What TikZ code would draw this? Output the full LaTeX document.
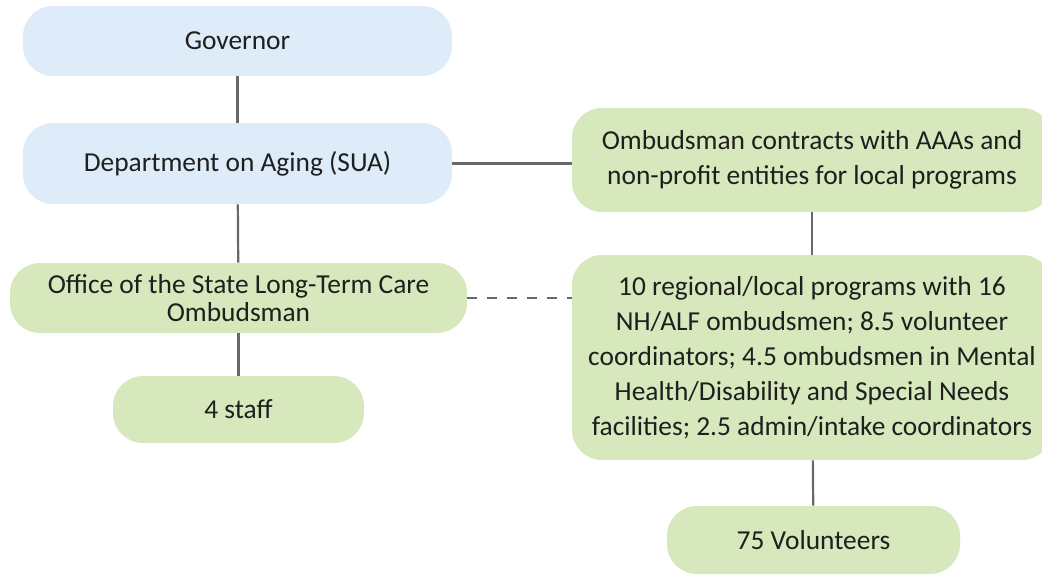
\documentclass[tikz,border=0pt]{standalone}
\usepackage{fontspec}
\setmainfont{Carlito}
\usepackage{xcolor}
\usetikzlibrary{positioning}
\definecolor{govblue}{RGB}{221,236,248}
\definecolor{ombgreen}{RGB}{214,232,188}
\definecolor{linkgray}{RGB}{104,104,104}
\tikzset{
unit/.style={rounded corners=15pt, inner sep=0pt, align=center,
font=\fontsize{13.7}{17.5}\selectfont, text=black!88},
bluebox/.style={unit, fill=govblue},
greenbox/.style={unit, fill=ombgreen},
link/.style={draw=linkgray, line width=1.1pt}
}
\begin{document}
\begin{tikzpicture}[x=0.5pt,y=-0.5pt]
\useasboundingbox (0,0) rectangle (1042,575);
\clip (0,0) rectangle (1042,575);
% state side
\node[bluebox, minimum width=214.5pt, minimum height=35pt](gov) at (237.5,41){Governor};
\node[bluebox, minimum width=214.5pt, minimum height=40.5pt](sua) at (237.5,163.5){Department on Aging (SUA)};
\node[greenbox, minimum width=228.5pt, minimum height=35pt](office) at (238.5,298){Office of the State Long-Term Care\\[-3.5pt]Ombudsman};
\node[greenbox, minimum width=125.5pt, minimum height=33.5pt](staff) at (238.5,409.5){4 staff};
% local side
\node[greenbox, minimum width=240pt, minimum height=52pt](contracts) at (812,160){Ombudsman contracts with AAAs and\\non-profit entities for local programs};
\node[greenbox, minimum width=240pt, minimum height=102.5pt](local) at (812,357.5){10 regional/local programs with 16\\NH/ALF ombudsmen; 8.5 volunteer\\coordinators; 4.5 ombudsmen in Mental\\Health/Disability and Special Needs\\facilities; 2.5 admin/intake coordinators};
\node[greenbox, minimum width=146.5pt, minimum height=34pt](vol) at (813.5,540){75 Volunteers};
\foreach \x/\y in {gov/sua,sua/office,office/staff,contracts/local,local/vol}
\draw[link](\x)--(\y);
\draw[link](sua.east)--(sua.east -| contracts.west);
\draw[link, dash pattern=on 5pt off 5pt](office.east)--(office.east -| local.west);
\end{tikzpicture}
\end{document}
